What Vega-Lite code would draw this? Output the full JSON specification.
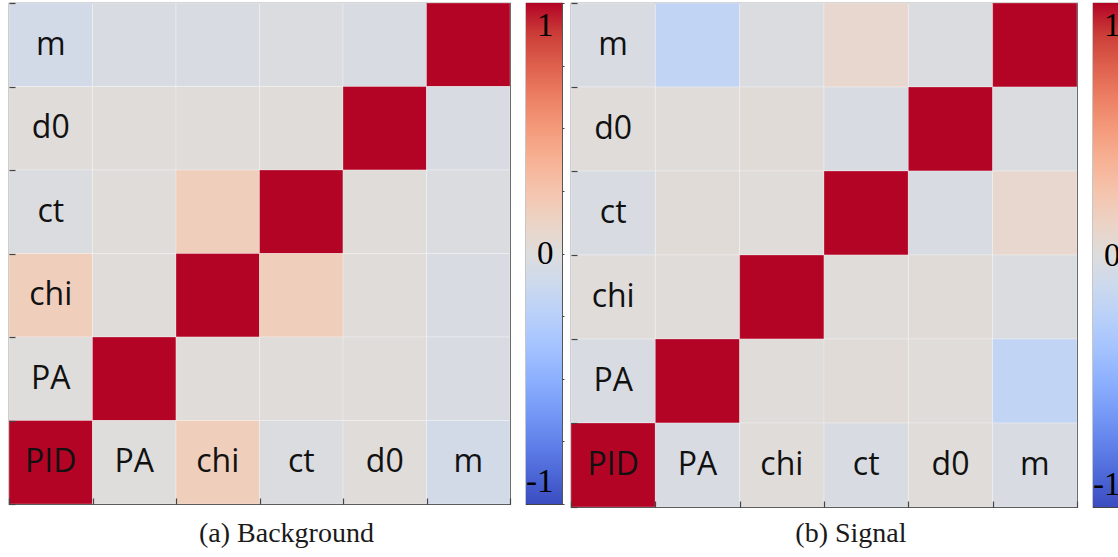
{
  "$schema": "https://vega.github.io/schema/vega-lite/v6.json",
  "padding": {"left": 7, "top": 1, "right": 0, "bottom": 0},
  "background": "#ffffff",
  "datasets": {
    "cells": [
      {"panel": "a", "row": "m", "col": "PID", "v": -0.08, "label": "m"},
      {"panel": "a", "row": "m", "col": "PA", "v": -0.04},
      {"panel": "a", "row": "m", "col": "chi", "v": -0.04},
      {"panel": "a", "row": "m", "col": "ct", "v": -0.02},
      {"panel": "a", "row": "m", "col": "d0", "v": -0.04},
      {"panel": "a", "row": "m", "col": "m", "v": 1},
      {"panel": "a", "row": "d0", "col": "PID", "v": 0.015, "label": "d0"},
      {"panel": "a", "row": "d0", "col": "PA", "v": 0.015},
      {"panel": "a", "row": "d0", "col": "chi", "v": 0.015},
      {"panel": "a", "row": "d0", "col": "ct", "v": 0.015},
      {"panel": "a", "row": "d0", "col": "d0", "v": 1},
      {"panel": "a", "row": "d0", "col": "m", "v": -0.04},
      {"panel": "a", "row": "ct", "col": "PID", "v": -0.02, "label": "ct"},
      {"panel": "a", "row": "ct", "col": "PA", "v": 0.015},
      {"panel": "a", "row": "ct", "col": "chi", "v": 0.17},
      {"panel": "a", "row": "ct", "col": "ct", "v": 1},
      {"panel": "a", "row": "ct", "col": "d0", "v": 0.015},
      {"panel": "a", "row": "ct", "col": "m", "v": -0.02},
      {"panel": "a", "row": "chi", "col": "PID", "v": 0.17, "label": "chi"},
      {"panel": "a", "row": "chi", "col": "PA", "v": 0.015},
      {"panel": "a", "row": "chi", "col": "chi", "v": 1},
      {"panel": "a", "row": "chi", "col": "ct", "v": 0.17},
      {"panel": "a", "row": "chi", "col": "d0", "v": 0.015},
      {"panel": "a", "row": "chi", "col": "m", "v": -0.04},
      {"panel": "a", "row": "PA", "col": "PID", "v": 0.005, "label": "PA"},
      {"panel": "a", "row": "PA", "col": "PA", "v": 1},
      {"panel": "a", "row": "PA", "col": "chi", "v": 0.015},
      {"panel": "a", "row": "PA", "col": "ct", "v": 0.015},
      {"panel": "a", "row": "PA", "col": "d0", "v": 0.015},
      {"panel": "a", "row": "PA", "col": "m", "v": -0.04},
      {"panel": "a", "row": "PID", "col": "PID", "v": 1, "label": "PID"},
      {"panel": "a", "row": "PID", "col": "PA", "v": 0.005, "label": "PA"},
      {"panel": "a", "row": "PID", "col": "chi", "v": 0.17, "label": "chi"},
      {"panel": "a", "row": "PID", "col": "ct", "v": -0.02, "label": "ct"},
      {"panel": "a", "row": "PID", "col": "d0", "v": 0.015, "label": "d0"},
      {"panel": "a", "row": "PID", "col": "m", "v": -0.08, "label": "m"},

      {"panel": "b", "row": "m", "col": "PID", "v": -0.04, "label": "m"},
      {"panel": "b", "row": "m", "col": "PA", "v": -0.19},
      {"panel": "b", "row": "m", "col": "chi", "v": -0.02},
      {"panel": "b", "row": "m", "col": "ct", "v": 0.08},
      {"panel": "b", "row": "m", "col": "d0", "v": -0.02},
      {"panel": "b", "row": "m", "col": "m", "v": 1},
      {"panel": "b", "row": "d0", "col": "PID", "v": 0.015, "label": "d0"},
      {"panel": "b", "row": "d0", "col": "PA", "v": 0.015},
      {"panel": "b", "row": "d0", "col": "chi", "v": 0.03},
      {"panel": "b", "row": "d0", "col": "ct", "v": -0.04},
      {"panel": "b", "row": "d0", "col": "d0", "v": 1},
      {"panel": "b", "row": "d0", "col": "m", "v": -0.02},
      {"panel": "b", "row": "ct", "col": "PID", "v": -0.04, "label": "ct"},
      {"panel": "b", "row": "ct", "col": "PA", "v": 0.03},
      {"panel": "b", "row": "ct", "col": "chi", "v": 0.015},
      {"panel": "b", "row": "ct", "col": "ct", "v": 1},
      {"panel": "b", "row": "ct", "col": "d0", "v": -0.04},
      {"panel": "b", "row": "ct", "col": "m", "v": 0.08},
      {"panel": "b", "row": "chi", "col": "PID", "v": 0.015, "label": "chi"},
      {"panel": "b", "row": "chi", "col": "PA", "v": 0.015},
      {"panel": "b", "row": "chi", "col": "chi", "v": 1},
      {"panel": "b", "row": "chi", "col": "ct", "v": 0.015},
      {"panel": "b", "row": "chi", "col": "d0", "v": 0.03},
      {"panel": "b", "row": "chi", "col": "m", "v": -0.02},
      {"panel": "b", "row": "PA", "col": "PID", "v": -0.04, "label": "PA"},
      {"panel": "b", "row": "PA", "col": "PA", "v": 1},
      {"panel": "b", "row": "PA", "col": "chi", "v": 0.015},
      {"panel": "b", "row": "PA", "col": "ct", "v": 0.03},
      {"panel": "b", "row": "PA", "col": "d0", "v": 0.015},
      {"panel": "b", "row": "PA", "col": "m", "v": -0.19},
      {"panel": "b", "row": "PID", "col": "PID", "v": 1, "label": "PID"},
      {"panel": "b", "row": "PID", "col": "PA", "v": -0.04, "label": "PA"},
      {"panel": "b", "row": "PID", "col": "chi", "v": 0.015, "label": "chi"},
      {"panel": "b", "row": "PID", "col": "ct", "v": -0.04, "label": "ct"},
      {"panel": "b", "row": "PID", "col": "d0", "v": 0.015, "label": "d0"},
      {"panel": "b", "row": "PID", "col": "m", "v": -0.04, "label": "m"}
    ],
    "bar": [{"lo": -1, "hi": 1}]
  },
  "spacing": 3,
  "hconcat": [
    {
      "title": {"text": "(a) Background", "orient": "bottom", "anchor": "middle", "font": "Liberation Serif", "fontSize": 28, "fontWeight": "normal", "color": "#1a1a1a", "offset": 15},
      "spacing": 12,
      "hconcat": [
        {
          "width": 501, "height": 501,
          "data": {"name": "cells"},
          "transform": [{"filter": "datum.panel == 'a'"}],
          "layer": [
            {
              "mark": {"type": "rect", "stroke": "#ffffff", "strokeWidth": 0.6, "strokeOpacity": 0.45},
              "encoding": {
                "x": {"field": "col", "type": "nominal", "sort": ["PID", "PA", "chi", "ct", "d0", "m"], "scale": {"paddingInner": 0, "paddingOuter": 0},
                      "axis": {"title": null, "labels": false, "domain": false, "grid": false, "tickBand": "extent", "tickSize": -6, "tickColor": "#444", "tickWidth": 1.2, "minExtent": 0, "maxExtent": 0, "zindex": 1}},
                "y": {"field": "row", "type": "nominal", "sort": ["m", "d0", "ct", "chi", "PA", "PID"], "scale": {"paddingInner": 0, "paddingOuter": 0},
                      "axis": {"title": null, "labels": false, "domain": false, "grid": false, "tickBand": "extent", "tickSize": -6, "tickColor": "#444", "tickWidth": 1.2, "minExtent": 0, "maxExtent": 0, "zindex": 1}},
                "color": {"field": "v", "type": "quantitative", "legend": null,
                          "scale": {"interpolate": "rgb",
                                    "domain": [-1, -0.875, -0.75, -0.625, -0.5, -0.375, -0.25, -0.125, 0, 0.125, 0.25, 0.375, 0.5, 0.625, 0.75, 0.875, 1],
                                    "range": ["#3b4cc0", "#4d68d7", "#6282ea", "#779af7", "#8db0fe", "#a3c2ff", "#b8d0f9", "#ccd9ee", "#dddddd", "#ecd3c5", "#f5c4ad", "#f7b194", "#f49a7b", "#ec7f63", "#de604d", "#cb3e38", "#b40426"]}}
              }
            },
            {
              "transform": [{"filter": "datum.label != null"}],
              "mark": {"type": "text", "font": "Open Sans", "fontSize": 32, "color": "#111111", "baseline": "middle", "align": "center"},
              "encoding": {
                "x": {"field": "col", "type": "nominal", "sort": ["PID", "PA", "chi", "ct", "d0", "m"]},
                "y": {"field": "row", "type": "nominal", "sort": ["m", "d0", "ct", "chi", "PA", "PID"]},
                "text": {"field": "label"}
              }
            }
          ]
        },
        {
          "width": 36, "height": 501,
          "data": {"name": "bar"},
          "mark": {"type": "rect", "color": {"gradient": "linear", "x1": 0, "y1": 0, "x2": 0, "y2": 1,
            "stops": [
              {"offset": 0, "color": "#b40426"}, {"offset": 0.0625, "color": "#cb3e38"}, {"offset": 0.125, "color": "#de604d"}, {"offset": 0.1875, "color": "#ec7f63"},
              {"offset": 0.25, "color": "#f49a7b"}, {"offset": 0.3125, "color": "#f7b194"}, {"offset": 0.375, "color": "#f5c4ad"}, {"offset": 0.4375, "color": "#ecd3c5"},
              {"offset": 0.5, "color": "#dddddd"}, {"offset": 0.5625, "color": "#ccd9ee"}, {"offset": 0.625, "color": "#b8d0f9"}, {"offset": 0.6875, "color": "#a3c2ff"},
              {"offset": 0.75, "color": "#8db0fe"}, {"offset": 0.8125, "color": "#779af7"}, {"offset": 0.875, "color": "#6282ea"}, {"offset": 0.9375, "color": "#4d68d7"},
              {"offset": 1, "color": "#3b4cc0"}]}},
          "encoding": {
            "y": {"field": "lo", "type": "quantitative", "scale": {"domain": [-1, 1], "nice": false, "zero": false},
                  "axis": {"orient": "right", "title": null, "values": [-1, -0.75, -0.5, -0.25, 0, 0.25, 0.5, 0.75, 1], "grid": false, "domain": false, "zindex": 1,
                           "tickSize": 2, "tickColor": "#444", "tickWidth": 1, "labelAlign": "right", "labelPadding": -11, "labelFlush": true, "labelFlushOffset": -6,
                           "labelOverlap": false, "labelFont": "Liberation Serif", "labelFontSize": 33, "labelColor": "#000000",
                           "labelExpr": "datum.value == 1 ? '1' : (datum.value == 0 ? '0' : (datum.value == -1 ? '-1' : ''))"}},
            "y2": {"field": "hi"}
          }
        }
      ]
    },
    {
      "title": {"text": "(b) Signal", "orient": "bottom", "anchor": "middle", "font": "Liberation Serif", "fontSize": 28, "fontWeight": "normal", "color": "#1a1a1a", "offset": 12},
      "spacing": 12,
      "hconcat": [
        {
          "width": 506, "height": 504,
          "data": {"name": "cells"},
          "transform": [{"filter": "datum.panel == 'b'"}],
          "layer": [
            {
              "mark": {"type": "rect", "stroke": "#ffffff", "strokeWidth": 0.6, "strokeOpacity": 0.45},
              "encoding": {
                "x": {"field": "col", "type": "nominal", "sort": ["PID", "PA", "chi", "ct", "d0", "m"], "scale": {"paddingInner": 0, "paddingOuter": 0},
                      "axis": {"title": null, "labels": false, "domain": false, "grid": false, "tickBand": "extent", "tickSize": -6, "tickColor": "#444", "tickWidth": 1.2, "minExtent": 0, "maxExtent": 0, "zindex": 1}},
                "y": {"field": "row", "type": "nominal", "sort": ["m", "d0", "ct", "chi", "PA", "PID"], "scale": {"paddingInner": 0, "paddingOuter": 0},
                      "axis": {"title": null, "labels": false, "domain": false, "grid": false, "tickBand": "extent", "tickSize": -6, "tickColor": "#444", "tickWidth": 1.2, "minExtent": 0, "maxExtent": 0, "zindex": 1}},
                "color": {"field": "v", "type": "quantitative", "legend": null,
                          "scale": {"interpolate": "rgb",
                                    "domain": [-1, -0.875, -0.75, -0.625, -0.5, -0.375, -0.25, -0.125, 0, 0.125, 0.25, 0.375, 0.5, 0.625, 0.75, 0.875, 1],
                                    "range": ["#3b4cc0", "#4d68d7", "#6282ea", "#779af7", "#8db0fe", "#a3c2ff", "#b8d0f9", "#ccd9ee", "#dddddd", "#ecd3c5", "#f5c4ad", "#f7b194", "#f49a7b", "#ec7f63", "#de604d", "#cb3e38", "#b40426"]}}
              }
            },
            {
              "transform": [{"filter": "datum.label != null"}],
              "mark": {"type": "text", "font": "Open Sans", "fontSize": 32, "color": "#111111", "baseline": "middle", "align": "center"},
              "encoding": {
                "x": {"field": "col", "type": "nominal", "sort": ["PID", "PA", "chi", "ct", "d0", "m"]},
                "y": {"field": "row", "type": "nominal", "sort": ["m", "d0", "ct", "chi", "PA", "PID"]},
                "text": {"field": "label"}
              }
            }
          ]
        },
        {
          "width": 36, "height": 504,
          "data": {"name": "bar"},
          "mark": {"type": "rect", "color": {"gradient": "linear", "x1": 0, "y1": 0, "x2": 0, "y2": 1,
            "stops": [
              {"offset": 0, "color": "#b40426"}, {"offset": 0.0625, "color": "#cb3e38"}, {"offset": 0.125, "color": "#de604d"}, {"offset": 0.1875, "color": "#ec7f63"},
              {"offset": 0.25, "color": "#f49a7b"}, {"offset": 0.3125, "color": "#f7b194"}, {"offset": 0.375, "color": "#f5c4ad"}, {"offset": 0.4375, "color": "#ecd3c5"},
              {"offset": 0.5, "color": "#dddddd"}, {"offset": 0.5625, "color": "#ccd9ee"}, {"offset": 0.625, "color": "#b8d0f9"}, {"offset": 0.6875, "color": "#a3c2ff"},
              {"offset": 0.75, "color": "#8db0fe"}, {"offset": 0.8125, "color": "#779af7"}, {"offset": 0.875, "color": "#6282ea"}, {"offset": 0.9375, "color": "#4d68d7"},
              {"offset": 1, "color": "#3b4cc0"}]}},
          "encoding": {
            "y": {"field": "lo", "type": "quantitative", "scale": {"domain": [-1, 1], "nice": false, "zero": false},
                  "axis": {"orient": "right", "title": null, "values": [-1, -0.75, -0.5, -0.25, 0, 0.25, 0.5, 0.75, 1], "grid": false, "domain": false, "zindex": 1,
                           "tickSize": 2, "tickColor": "#444", "tickWidth": 1, "labelAlign": "right", "labelPadding": -11, "labelFlush": true, "labelFlushOffset": -6,
                           "labelOverlap": false, "labelFont": "Liberation Serif", "labelFontSize": 33, "labelColor": "#000000",
                           "labelExpr": "datum.value == 1 ? '1' : (datum.value == 0 ? '0' : (datum.value == -1 ? '-1' : ''))"}},
            "y2": {"field": "hi"}
          }
        }
      ]
    }
  ],
  "config": {
    "view": {"stroke": "#444444", "strokeWidth": 1.2}
  }
}
